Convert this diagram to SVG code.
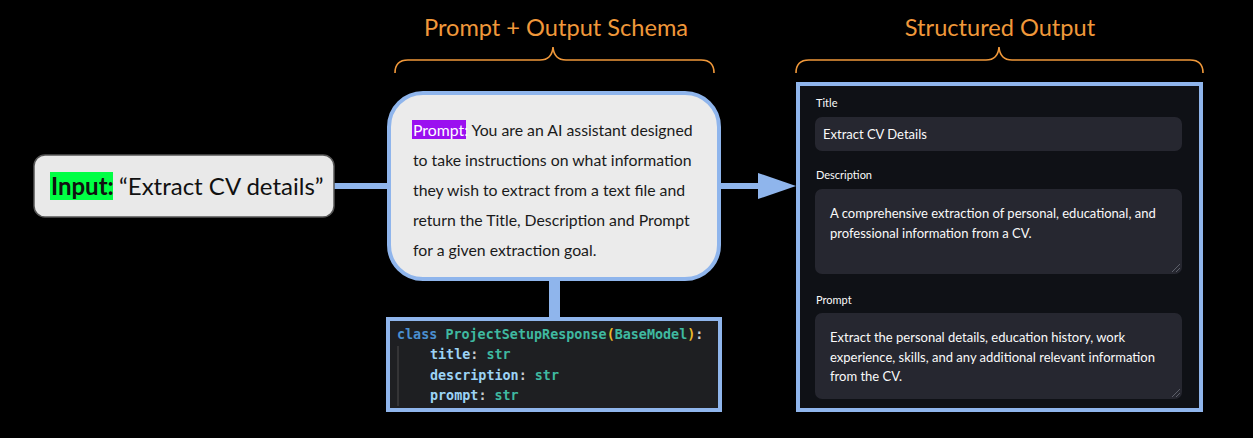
<svg xmlns="http://www.w3.org/2000/svg" width="1253" height="438" viewBox="0 0 1253 438">
<style>
.hdr{font-family:"Lato","Noto Sans",sans-serif;font-size:23.6px;fill:#f0983a;text-anchor:middle}
.brace{fill:none;stroke:#f0983a;stroke-width:1.6}
.conn{stroke:#8fb5ec;stroke-width:6;fill:none}
.body{font-family:"Lato","Noto Sans",sans-serif;font-size:15.8px;fill:#1a1a1a}
.code{font-family:"DejaVu Sans Mono","Liberation Mono",monospace;font-size:13.4px;font-weight:bold}
.lbl{font-family:"Lato","Noto Sans",sans-serif;font-size:11px;fill:#fafafa}
.fld{fill:#262730}
.ftxt{font-family:"Lato","Noto Sans",sans-serif;font-size:13px;fill:#fafafa}
.grip{stroke:#6b6d78;stroke-width:0.8}
</style>
<rect width="1253" height="438" fill="#000"/>

<g id="headers">
<text class="hdr" x="556" y="36">Prompt + Output Schema</text>
<path class="brace" d="M395 73 Q395 60 408 60 L540 60 Q552 60 553 47 Q554 60 566 60 L701 60 Q714 60 714 73"/>
<text class="hdr" x="1000" y="36">Structured Output</text>
<path class="brace" d="M796 73 Q796 60 809 60 L986 60 Q998 60 999 47 Q1000 60 1012 60 L1190 60 Q1203 60 1203 73"/>
</g>

<g id="connectors">
<line class="conn" x1="334" y1="186" x2="390" y2="186"/>
<line class="conn" x1="719" y1="186" x2="760" y2="186"/>
<polygon points="758,173 796,186 758,199" fill="#8fb5ec"/>
<rect x="549" y="279" width="11" height="40" fill="#8fb5ec"/>
</g>

<g id="input">
<rect x="34" y="155" width="300" height="62" rx="11" fill="#e9e9e9" stroke="#555" stroke-width="1.5"/>
<rect x="50" y="172" width="63" height="28" fill="#00ff44"/>
<text x="51" y="195" font-family="Lato,'Noto Sans',sans-serif" font-size="24" fill="#111"><tspan font-weight="bold">Input:</tspan><tspan x="119">“Extract CV details”</tspan></text>
</g>

<g id="prompt">
<rect x="389" y="93" width="330" height="186" rx="34" fill="#ebebeb" stroke="#8fb5ec" stroke-width="4"/>
<rect x="412" y="120" width="54" height="19" fill="#9b10f0"/>
<text class="body" x="413" y="136"><tspan fill="#fff">Prompt:</tspan> You are an AI assistant designed</text>
<text class="body" x="413" y="166">to take instructions on what information</text>
<text class="body" x="413" y="196">they wish to extract from a text file and</text>
<text class="body" x="413" y="226">return the Title, Description and Prompt</text>
<text class="body" x="413" y="256">for a given extraction goal.</text>
</g>

<g id="schema">
<rect x="388" y="319" width="332" height="91" fill="#1e1f22" stroke="#8fb5ec" stroke-width="4"/>
<line x1="398" y1="346" x2="398" y2="406" stroke="#4a4a4a" stroke-width="1"/>
<text class="code" x="397" y="339"><tspan fill="#4a8fd0">class</tspan> <tspan fill="#3fb9a0">ProjectSetupResponse</tspan><tspan fill="#e8b92a">(</tspan><tspan fill="#3fb9a0">BaseModel</tspan><tspan fill="#e8b92a">)</tspan><tspan fill="#cccccc">:</tspan></text>
<text class="code" x="430" y="359"><tspan fill="#9cd3f5">title</tspan><tspan fill="#cccccc">: </tspan><tspan fill="#3fb9a0">str</tspan></text>
<text class="code" x="430" y="380"><tspan fill="#9cd3f5">description</tspan><tspan fill="#cccccc">: </tspan><tspan fill="#3fb9a0">str</tspan></text>
<text class="code" x="430" y="400"><tspan fill="#9cd3f5">prompt</tspan><tspan fill="#cccccc">: </tspan><tspan fill="#3fb9a0">str</tspan></text>
</g>

<g id="output">
<rect x="798" y="84" width="403" height="326" fill="#0f1116" stroke="#8fb5ec" stroke-width="4"/>
<text class="lbl" x="816" y="107">Title</text>
<rect class="fld" x="815" y="117" width="367" height="34" rx="7"/>
<text class="ftxt" x="823" y="139">Extract CV Details</text>
<text class="lbl" x="816" y="179">Description</text>
<rect class="fld" x="815" y="189" width="367" height="85" rx="7"/>
<text class="ftxt" x="830" y="218">A comprehensive extraction of personal, educational, and</text>
<text class="ftxt" x="830" y="238">professional information from a CV.</text>
<path class="grip" d="M1172 272 L1180 264 M1176 272 L1180 268"/>
<text class="lbl" x="816" y="304">Prompt</text>
<rect class="fld" x="815" y="313" width="367" height="86" rx="7"/>
<text class="ftxt" x="830" y="342">Extract the personal details, education history, work</text>
<text class="ftxt" x="830" y="362">experience, skills, and any additional relevant information</text>
<text class="ftxt" x="830" y="381">from the CV.</text>
<path class="grip" d="M1172 397 L1180 389 M1176 397 L1180 393"/>
</g>
</svg>
